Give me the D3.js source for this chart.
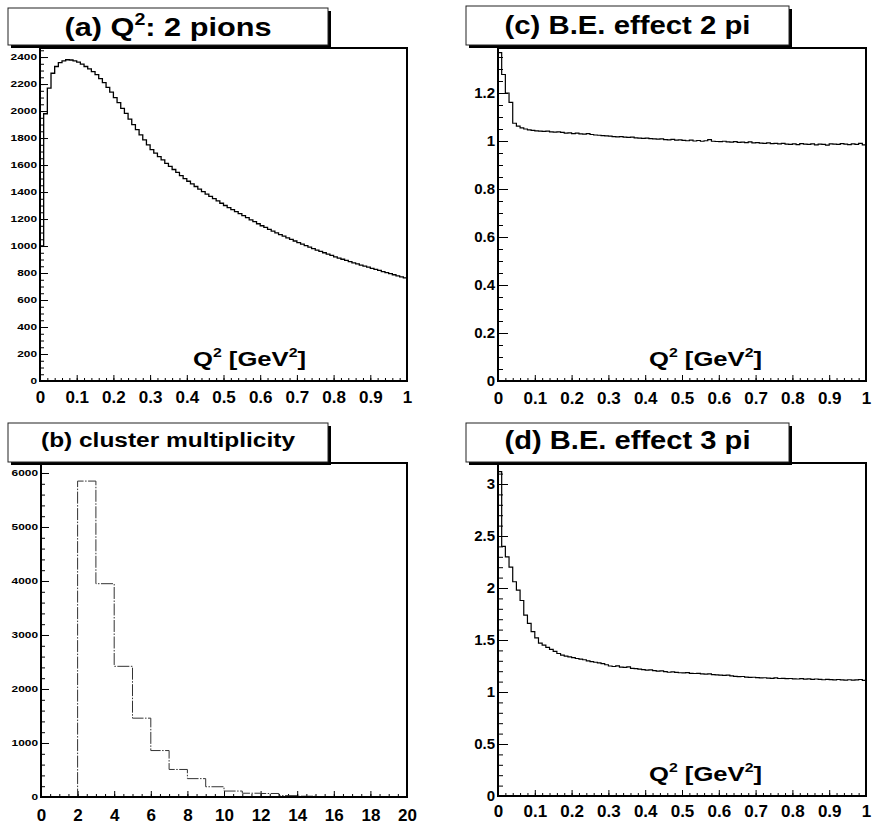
<!DOCTYPE html>
<html>
<head>
<meta charset="utf-8">
<script src="https://cdn.jsdelivr.net/npm/d3@7/dist/d3.min.js"></script>
<style>
body { margin: 0; background: #fff; }
text { font-family: "Liberation Sans", Arial, Helvetica, sans-serif; font-weight: bold; fill: #000; }
</style>
</head>
<body>
<div id="chart"></div>
<script>
// (a) Q^2 of pion pairs, 100 bins of 0.01 GeV^2
const pairQ2Counts = [
  1000, 1980, 2170, 2280, 2330, 2358, 2372, 2380, 2378, 2372,
  2362, 2348, 2330, 2312, 2292, 2270, 2240, 2210, 2175, 2140,
  2100, 2062, 2020, 1982, 1940, 1900, 1862, 1824, 1786, 1750,
  1714, 1688, 1662, 1638, 1612, 1590, 1567, 1545, 1522, 1500,
  1480, 1460, 1441, 1422, 1403, 1385, 1368, 1351, 1334, 1317,
  1300, 1285, 1270, 1255, 1240, 1225, 1210, 1194, 1180, 1165,
  1150, 1138, 1124, 1111, 1098, 1085, 1073, 1061, 1049, 1037,
  1025, 1014, 1003, 992, 981, 970, 960, 950, 940, 930,
  920, 911, 902, 893, 884, 875, 867, 859, 851, 843,
  835, 827, 819, 811, 803, 795, 787, 779, 772, 764
]

// (b) cluster multiplicity, bins of 1 from 0 to 20
const multiplicityCounts = [0, 0, 5850, 3950, 2420, 1460, 860, 510, 340, 190, 110, 70, 65, 25, 15, 8, 5, 3, 2, 1]

// (c) Bose-Einstein ratio, two pions
const ratio2pi = [
  1.368, 1.277, 1.200, 1.161, 1.074, 1.062, 1.055, 1.050, 1.046, 1.044,
  1.042, 1.041, 1.040, 1.041, 1.038, 1.037, 1.038, 1.036, 1.033, 1.034,
  1.031, 1.033, 1.030, 1.029, 1.031, 1.027, 1.025, 1.024, 1.022, 1.021,
  1.020, 1.018, 1.017, 1.018, 1.016, 1.015, 1.016, 1.013, 1.012, 1.011,
  1.012, 1.010, 1.009, 1.008, 1.009, 1.006, 1.005, 1.007, 1.004, 1.005,
  1.003, 1.001, 1.004, 1.000, 1.002, 0.999, 1.001, 1.006, 0.999, 0.998,
  0.997, 0.999, 0.996, 0.995, 0.997, 0.994, 0.995, 0.993, 0.996, 0.992,
  0.993, 0.991, 0.990, 0.992, 0.989, 0.990, 0.988, 0.990, 0.987, 0.986,
  0.988, 0.985, 0.989, 0.987, 0.986, 0.988, 0.984, 0.987, 0.986, 0.983,
  0.988, 0.987, 0.986, 0.989, 0.987, 0.985, 0.988, 0.986, 0.990, 0.984
]

// (d) Bose-Einstein ratio, three pions
const ratio3pi = [
  3.12, 2.40, 2.30, 2.20, 2.06, 1.98, 1.88, 1.74, 1.66, 1.58,
  1.52, 1.47, 1.45, 1.43, 1.41, 1.39, 1.37, 1.355, 1.345, 1.338,
  1.330, 1.322, 1.316, 1.310, 1.300, 1.292, 1.286, 1.280, 1.272, 1.262,
  1.250, 1.245, 1.252, 1.240, 1.236, 1.242, 1.228, 1.225, 1.220, 1.215,
  1.210, 1.212, 1.206, 1.200, 1.204, 1.196, 1.190, 1.193, 1.188, 1.185,
  1.183, 1.186, 1.180, 1.178, 1.180, 1.175, 1.172, 1.174, 1.168, 1.165,
  1.163, 1.160, 1.162, 1.155, 1.150, 1.147, 1.149, 1.144, 1.140, 1.142,
  1.138, 1.135, 1.137, 1.134, 1.132, 1.135, 1.130, 1.131, 1.128, 1.130,
  1.127, 1.125, 1.128, 1.124, 1.126, 1.122, 1.125, 1.121, 1.118, 1.122,
  1.119, 1.116, 1.120, 1.117, 1.115, 1.118, 1.114, 1.116, 1.120, 1.112
]

const q2TickLabels = ['0', '0.1', '0.2', '0.3', '0.4', '0.5', '0.6', '0.7', '0.8', '0.9', '1']
const multTickLabels = ['0', '2', '4', '6', '8', '10', '12', '14', '16', '18', '20']

const layout = { width: 872, height: 824 }

const panels = [
  {
    title: ['(a) Q', '2', ': 2 pions'], titleSize: 25, titleLen: 207,
    box: { x: 8, y: 8, w: 320, h: 37, base: 36 },
    frame: { x0: 40, x1: 407, y0: 48, y1: 381 },
    values: pairQ2Counts, binLow: 0, binWidth: 0.01,
    xDomain: [0, 1], xLabels: q2TickLabels, xMinor: 0.02, xPad: 10,
    yDomain: [0, 2467], yMajor: 200, yMinor: 50, smallY: true, yFmt: d => d,
    stroke: 1.3, qLabel: { x: 193, y: 366 }
  },
  {
    title: ['(b) cluster multiplicity'], titleSize: 20, titleLen: 254,
    box: { x: 8, y: 423, w: 320, h: 39, base: 447 },
    frame: { x0: 41, x1: 407, y0: 463, y1: 797 },
    values: multiplicityCounts, binLow: 0, binWidth: 1,
    xDomain: [0, 20], xLabels: multTickLabels, xMinor: 0.5, xPad: 12,
    yDomain: [0, 6185], yMajor: 1000, yMinor: 200, smallY: true, yFmt: d => d,
    stroke: 1, dash: '12,1.5,1.5,1.5', color: '#333'
  },
  {
    title: ['(c) B.E. effect 2 pi'], titleSize: 25, titleLen: 246,
    box: { x: 466, y: 6, w: 323, h: 39, base: 34 },
    frame: { x0: 498, x1: 866, y0: 48, y1: 381 },
    values: ratio2pi, binLow: 0, binWidth: 0.01,
    xDomain: [0, 1], xLabels: q2TickLabels, xMinor: 0.02, xPad: 11,
    yDomain: [0, 1.3875], yMajor: 0.2, yMinor: 0.05, smallY: false,
    yFmt: d => d3.format('.1~f')(d),
    stroke: 1.2, qLabel: { x: 649, y: 366 }
  },
  {
    title: ['(d) B.E. effect 3 pi'], titleSize: 25, titleLen: 246,
    box: { x: 466, y: 423, w: 323, h: 39, base: 449 },
    frame: { x0: 498, x1: 866, y0: 463, y1: 796 },
    values: ratio3pi, binLow: 0, binWidth: 0.01,
    xDomain: [0, 1], xLabels: q2TickLabels, xMinor: 0.02, xPad: 9,
    yDomain: [0, 3.202], yMajor: 0.5, yMinor: 0.1, smallY: false,
    yFmt: d => d3.format('.1~f')(d),
    stroke: 1.2, qLabel: { x: 649, y: 781 }
  }
]

const svg = d3.select('#chart')
  .append('svg')
  .attr('width', layout.width)
  .attr('height', layout.height)
  .attr('viewBox', `0 0 ${layout.width} ${layout.height}`)
  .attr('xmlns', 'http://www.w3.org/2000/svg')

panels.forEach(p => drawPanel(svg.append('g'), p))

function stepTicks(max, step) {
  const n = Math.floor(max / step + 1e-6)
  return d3.range(n + 1).map(i => +(i * step).toFixed(4))
}

function drawPanel(g, p) {
  const f = p.frame
  const x = d3.scaleLinear().domain(p.xDomain).range([f.x0, f.x1])
  const y = d3.scaleLinear().domain(p.yDomain).range([f.y1, f.y0])

  // minor ticks first
  g.append('g')
    .attr('transform', `translate(0,${f.y1})`)
    .call(d3.axisBottom(x).tickValues(stepTicks(p.xDomain[1], p.xMinor)).tickSize(-3).tickFormat(''))
    .call(a => a.select('.domain').remove())
  g.append('g')
    .attr('transform', `translate(${f.x0},0)`)
    .call(d3.axisLeft(y).tickValues(stepTicks(p.yDomain[1], p.yMinor)).tickSize(p.smallY ? -4 : -5).tickFormat(''))
    .call(a => a.select('.domain').remove())

  // major ticks + labels
  const xMajor = p.xLabels.map(Number)
  const xAxis = g.append('g')
    .attr('transform', `translate(0,${f.y1})`)
    .call(d3.axisBottom(x).tickValues(xMajor).tickSize(-6).tickPadding(p.xPad)
      .tickFormat((d, i) => p.xLabels[i]))
  xAxis.select('.domain').remove()
  xAxis.selectAll('text').attr('font-size', 17).attr('fill', '#000')

  const yAxis = g.append('g')
    .attr('transform', `translate(${f.x0},0)`)
    .call(d3.axisLeft(y).tickValues(stepTicks(p.yDomain[1], p.yMajor)).tickSize(p.smallY ? -8 : -10)
      .tickPadding(3).tickFormat(p.yFmt))
  yAxis.select('.domain').remove()
  if (p.smallY) {
    yAxis.selectAll('text').attr('font-size', 9)
      .attr('textLength', d => String(d).length * 6.6)
      .attr('lengthAdjust', 'spacingAndGlyphs')
  } else {
    yAxis.selectAll('text').attr('font-size', 15)
  }
  g.selectAll('.tick line').attr('stroke', '#000').attr('stroke-width', 1)

  // histogram outline
  const pts = [[p.binLow, 0]]
  p.values.forEach((v, i) => pts.push([p.binLow + i * p.binWidth, v]))
  pts.push([p.binLow + p.values.length * p.binWidth, p.values[p.values.length - 1]])
  const line = d3.line().x(d => x(d[0])).y(d => y(d[1])).curve(d3.curveStepAfter)
  g.append('path')
    .attr('d', line(pts))
    .attr('fill', 'none')
    .attr('stroke', p.color || '#000')
    .attr('stroke-width', p.stroke)
    .attr('stroke-dasharray', p.dash || null)

  // frame
  g.append('rect')
    .attr('x', f.x0).attr('y', f.y0)
    .attr('width', f.x1 - f.x0).attr('height', f.y1 - f.y0)
    .attr('fill', 'none').attr('stroke', '#000').attr('stroke-width', 2)

  // axis title
  if (p.qLabel) {
    const t = g.append('text').attr('x', p.qLabel.x).attr('y', p.qLabel.y).attr('font-size', 21)
      .attr('textLength', 113).attr('lengthAdjust', 'spacingAndGlyphs')
    t.append('tspan').text('Q')
    t.append('tspan').attr('dy', -9).attr('font-size', 13).text('2')
    t.append('tspan').attr('dy', 9).text(' [GeV')
    t.append('tspan').attr('dy', -9).attr('font-size', 13).text('2')
    t.append('tspan').attr('dy', 9).text(']')
  }

  // title box with shadow
  const b = p.box
  g.append('rect').attr('x', b.x + 3).attr('y', b.y + 3).attr('width', b.w).attr('height', b.h).attr('fill', '#000')
  g.append('rect').attr('x', b.x).attr('y', b.y).attr('width', b.w).attr('height', b.h)
    .attr('fill', '#fff').attr('stroke', '#222').attr('stroke-width', 1)
  const tt = g.append('text')
    .attr('x', b.x + b.w / 2).attr('y', b.base)
    .attr('text-anchor', 'middle')
    .attr('font-size', p.titleSize)
    .attr('textLength', p.titleLen).attr('lengthAdjust', 'spacingAndGlyphs')
  tt.append('tspan').text(p.title[0])
  if (p.title.length > 1) {
    tt.append('tspan').attr('dy', -11).attr('font-size', 16).text(p.title[1])
    tt.append('tspan').attr('dy', 11).text(p.title[2])
  }
}
</script>
</body>
</html>
